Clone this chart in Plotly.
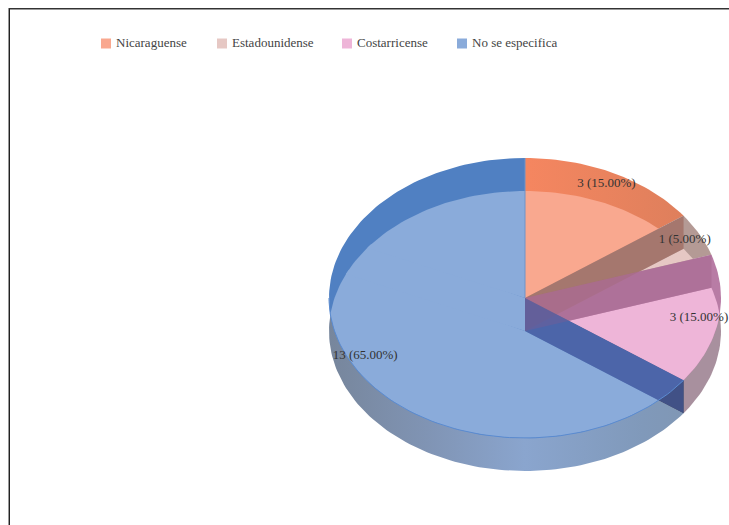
import math
import plotly.graph_objects as go

categories = ["Nicaraguense", "Estadounidense", "Costarricense", "No se especifica"]
values = [3, 1, 3, 13]

swatch_colors = ["#F9A88F", "#E6C8C4", "#EEB5D8", "#8AABDA"]
band_colors = ["#E6825E", "#B49A95", "#B87CA5", "#5080C2"]
wall_colors = ["rgba(160,105,95,0.72)", "rgba(170,110,148,0.72)", "rgba(75,90,160,0.72)"]
under_color = ["#B49A95", "#B49A95", "#A8909E"]

W, H = 729, 525
CX, CY, RX, RY, DEPTH = 525, 298, 196, 140, 33
LEGEND_X = [106, 222, 347, 462]
LEGEND_Y = 43.5
LEGEND_TEXT_GAP = 10


def point(deg, cy):
    a = math.radians(deg)
    return (CX + RX * math.sin(a), cy - RY * math.cos(a))


def arc(a0, a1, cy):
    n = max(2, int(abs(a1 - a0) / 1.5))
    return [point(a0 + (a1 - a0) * i / n, cy) for i in range(n + 1)]


def sector(a0, a1, cy):
    return [(CX, cy)] + arc(a0, a1, cy)


def clip(subject, clipper):
    def cross(a, b, p):
        return (b[0] - a[0]) * (p[1] - a[1]) - (b[1] - a[1]) * (p[0] - a[0])

    area = sum(clipper[i][0] * clipper[(i + 1) % len(clipper)][1]
               - clipper[(i + 1) % len(clipper)][0] * clipper[i][1]
               for i in range(len(clipper)))
    sign = 1 if area > 0 else -1
    out = subject
    for i in range(len(clipper)):
        a, b = clipper[i], clipper[(i + 1) % len(clipper)]
        if a == b or not out:
            continue
        src, out = out, []
        for j in range(len(src)):
            p, q = src[j], src[(j + 1) % len(src)]
            cp, cq = sign * cross(a, b, p), sign * cross(a, b, q)
            if cp >= 0:
                out.append(p)
            if (cp >= 0) != (cq >= 0):
                t = cp / (cp - cq)
                out.append((p[0] + t * (q[0] - p[0]), p[1] + t * (q[1] - p[1])))
    return out


def poly(pts, color=None, **kw):
    xs = [p[0] for p in pts] + [pts[0][0]]
    ys = [p[1] for p in pts] + [pts[0][1]]
    if color is not None:
        kw["fillcolor"] = color
    return go.Scatter(x=xs, y=ys, mode="lines", fill="toself",
                      line=dict(width=0), hoverinfo="skip", showlegend=False, **kw)


def chunks(a0, a1, step=170, overlap=2):
    out, cur = [], a0
    while cur < a1 - 1e-6:
        nxt = min(cur + step, a1)
        out.append((cur, nxt))
        cur = nxt - overlap if nxt < a1 else nxt
    return out


total = sum(values)
edges = [0]
for v in values:
    edges.append(edges[-1] + 360 * v / total)

fig = go.Figure()

# lower disc, seen below the upper one
for i in range(3):
    fig.add_trace(poly(sector(edges[i], edges[i + 1], CY + DEPTH), under_color[i]))
fig.add_trace(poly(
    sector(edges[3], edges[4], CY + DEPTH),
    fillgradient=dict(type="horizontal", start=CX - RX, stop=CX + RX,
                      colorscale=[[0, "#77869C"], [0.25, "#8094B4"], [0.5, "#8AA5CE"],
                                  [0.8, "#8099BA"], [1, "#8095B0"]]),
))

# tip of the last cut face, below the upper disc
a = edges[3]
tip = [(CX, CY), point(a, CY), point(a, CY + DEPTH), (CX, CY + DEPTH)]
fig.add_trace(poly(tip, "rgb(40,60,70)"))

# upper disc
fig.add_trace(poly(
    sector(edges[0], edges[1], CY),
    fillgradient=dict(type="horizontal", start=CX, stop=CX + RX * 0.81,
                      colorscale=[[0, "#F58660"], [0.5, "#EA835E"], [1, "#DE7F5C"]]),
))
for i in range(1, 4):
    fig.add_trace(poly(sector(edges[i], edges[i + 1], CY), band_colors[i]))

# overlap of upper and lower disc
for i in range(4):
    a0, a1 = edges[i], edges[i + 1]
    for s0, s1 in chunks(a0, a1):
        top = sector(s0, s1, CY)
        for t0, t1 in chunks(a0, a1):
            piece = clip(top, sector(t0, t1, CY + DEPTH))
            if len(piece) > 2:
                fig.add_trace(poly(piece, swatch_colors[i]))

# cut faces
for k, a in enumerate(edges[1:4]):
    face = [(CX, CY), point(a, CY), point(a, CY + DEPTH), (CX, CY + DEPTH)]
    fig.add_trace(poly(face, wall_colors[k]))

# rim lines of the largest slice
front = arc(edges[3], 270, CY)
fig.add_trace(go.Scatter(x=[p[0] for p in front], y=[p[1] for p in front], mode="lines",
                         line=dict(color="#5B8BD0", width=1), hoverinfo="skip", showlegend=False))
fig.add_trace(go.Scatter(x=[CX, CX], y=[CY - RY, CY], mode="lines",
                         line=dict(color="#6E93C8", width=1), hoverinfo="skip", showlegend=False))

# slice labels
lx, ly, lt = [], [], []
for i, v in enumerate(values):
    mid = (edges[i] + edges[i + 1]) / 2
    r = 0.915
    lx.append(min(CX + r * RX * math.sin(math.radians(mid)), W - 30))
    ly.append(CY - r * RY * math.cos(math.radians(mid)))
    lt.append(f"{v} ({100 * v / total:.2f}%)")
fig.add_trace(go.Scatter(x=lx, y=ly, text=lt, mode="text", textposition="middle center",
                         textfont=dict(family="Liberation Serif", size=13, color="#333333"),
                         cliponaxis=False, hoverinfo="skip", showlegend=False))

# legend row
fig.add_trace(go.Scatter(
    x=LEGEND_X, y=[LEGEND_Y] * len(LEGEND_X), mode="markers",
    marker=dict(symbol="square", size=10, color=swatch_colors),
    hoverinfo="skip", showlegend=False,
))
fig.add_trace(go.Scatter(
    x=[x + LEGEND_TEXT_GAP for x in LEGEND_X], y=[LEGEND_Y + 0.5] * len(LEGEND_X),
    text=categories, mode="text", textposition="middle right",
    textfont=dict(family="Liberation Serif", size=13, color="#444444"),
    hoverinfo="skip", showlegend=False,
))

fig.update_layout(
    width=W, height=H, margin=dict(l=0, r=0, t=0, b=0), showlegend=False,
    paper_bgcolor="white", plot_bgcolor="white",
    xaxis=dict(range=[0, W], visible=False, fixedrange=True),
    yaxis=dict(range=[H, 0], visible=False, fixedrange=True),
    shapes=[
        dict(type="line", xref="x", yref="y", x0=8, x1=W, y0=8.5, y1=8.5, line=dict(color="#333333", width=1)),
        dict(type="line", xref="x", yref="y", x0=9, x1=W, y0=9.5, y1=9.5, line=dict(color="#999999", width=1)),
        dict(type="line", xref="x", yref="y", x0=8.5, x1=8.5, y0=8, y1=H, line=dict(color="#999999", width=1)),
        dict(type="line", xref="x", yref="y", x0=9.5, x1=9.5, y0=9, y1=H, line=dict(color="#222222", width=1)),
    ],
)

fig.write_html("out.html", config=dict(displayModeBar=False),
               post_script="document.body.style.margin='0';")
